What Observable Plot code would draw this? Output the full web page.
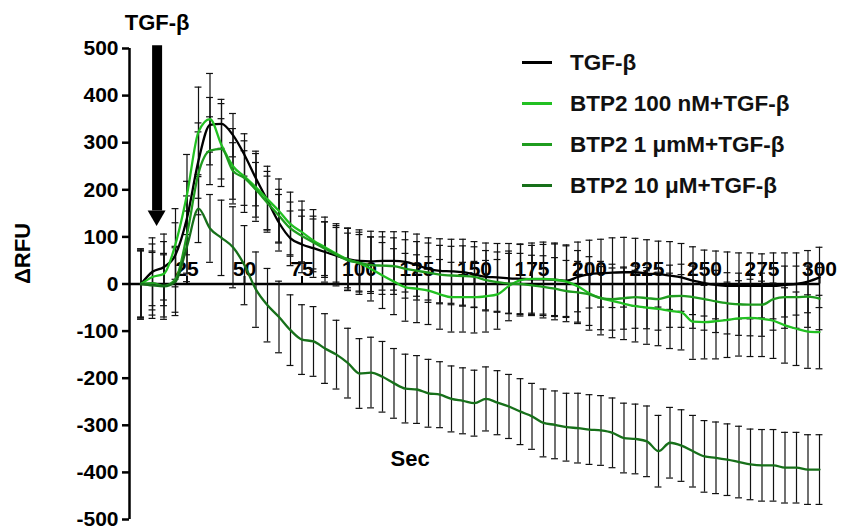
<!DOCTYPE html>
<html><head><meta charset="utf-8">
<script src="https://cdn.jsdelivr.net/npm/d3@7"></script>
<script src="https://cdn.jsdelivr.net/npm/@observablehq/plot@0.6"></script>
<style>
body{margin:0;background:#fff;}
#wrap{position:relative;width:842px;height:529px;font-family:"Liberation Sans",Arial,sans-serif;}
#legend{position:absolute;left:522px;top:42px;}
.row{display:flex;align-items:center;height:41px;}
.sw{width:30px;height:3px;margin-right:18px;}
.lab{font-size:22.5px;font-weight:bold;color:#111;white-space:nowrap;}
</style></head><body><div id="wrap"><div id="legend"></div></div>
<script>
// ---- data ----
const seriesNames = ["TGF-β", "BTP2 100 nM+TGF-β", "BTP2 1 μmM+TGF-β", "BTP2 10 μM+TGF-β"];
const seriesColors = ["#000000", "#22c022", "#1f9c1f", "#17701a"];
const times = [5,10,15,20,25,30,35,40,45,50,55,60,65,70,75,80,85,90,95,100,105,110,115,120,125,130,135,140,145,150,155,160,165,170,175,180,185,190,195,200,205,210,215,220,225,230,235,240,245,250,255,260,265,270,275,280,285,290,295,300];
const tgf    = [0,26,36,62,140,262,338,340,316,274,224,177,130,97,84,76,68,60,53,49,48,49,49,47,40,32,28,27,25,20,15,14,12,11,10,10,9,7,15,21,23,24,25,25,22,21,18,14,7,2,-2,-4,-4,-4,-4,-4,-2,0,5,14];
const btp100 = [0,15,22,85,190,323,350,295,250,228,205,180,155,127,110,92,78,64,52,44,32,18,5,-7,-10,-14,-22,-28,-28,-28,-26,-22,-4,8,11,11,9,5,-5,-20,-30,-36,-42,-47,-50,-53,-57,-60,-80,-81,-79,-76,-73,-72,-74,-78,-88,-95,-101,-102];
const btp1   = [0,2,-4,10,105,235,283,287,240,225,200,172,145,118,102,88,75,62,50,45,40,39,38,32,28,24,20,18,17,15,8,4,1,0,-3,-6,-10,-15,-18,-22,-30,-32,-30,-28,-30,-32,-26,-25,-28,-32,-37,-41,-43,-44,-44,-32,-28,-28,-27,-31];
const btp10  = [0,-3,-5,5,80,160,118,98,78,40,-12,-45,-70,-98,-118,-122,-137,-150,-168,-190,-188,-197,-211,-222,-224,-232,-235,-244,-248,-253,-244,-252,-260,-271,-281,-295,-299,-304,-306,-309,-311,-316,-327,-329,-334,-355,-337,-343,-355,-366,-369,-373,-378,-383,-385,-385,-390,-390,-394,-394];
const semTgf = [75,72,70,68,78,80,58,52,46,45,58,62,60,58,60,62,64,64,66,66,64,62,62,64,66,66,68,68,70,70,72,72,74,74,72,74,76,76,74,72,72,74,74,72,72,70,72,72,72,70,72,72,70,70,68,70,68,66,66,64];
const sem100 = [72,70,68,75,85,95,97,88,80,76,72,70,68,68,66,66,64,64,66,66,68,70,70,72,72,72,74,74,74,76,76,74,74,76,76,78,78,76,76,78,78,78,76,76,78,78,80,80,80,78,80,80,80,82,80,80,80,78,78,78];
const sem1   = [70,68,66,70,82,88,72,64,60,58,58,57,56,56,55,56,57,58,58,60,60,61,60,62,62,63,62,62,64,64,63,64,64,65,64,66,66,65,66,66,67,66,66,66,65,66,66,67,66,66,66,65,66,66,67,66,66,66,65,66];
const sem10  = [72,70,70,72,75,72,72,80,86,84,80,78,76,75,74,74,74,73,74,74,75,75,74,73,72,72,70,70,70,70,68,68,68,70,70,72,72,72,74,74,74,74,74,74,75,76,75,76,76,76,76,76,76,75,76,76,75,75,74,74];
const yTicks = [-500,-400,-300,-200,-100,0,100,200,300,400,500];
const xTicks = [25,50,75,100,125,150,175,200,225,250,275,300];
const yLabel = "ΔRFU";
const xLabel = "Sec";
const arrowLabel = "TGF-β";

// ---- build table ----
const means = [tgf, btp100, btp1, btp10];
const sems = [semTgf, sem100, sem1, sem10];
const rows = [];
seriesNames.forEach((s, i) => times.forEach((t, j) => rows.push({series: s, t, mean: means[i][j], sem: sems[i][j]})));

// annotation (arrow) geometry in data units
const arrowT = 12, arrowTop = 506, arrowBase = 155, arrowTip = 122, arrowHalf = 3.9;
const capHalf = 1.5;

const plot = Plot.plot({
  width: 842, height: 529,
  marginLeft: 129, marginRight: 23, marginTop: 48, marginBottom: 10,
  x: {domain: [0, 300], axis: null},
  y: {domain: [-500, 500]},
  color: {domain: seriesNames, range: seriesColors},
  style: {fontFamily: "Liberation Sans, Arial, sans-serif", color: "black", background: "white", overflow: "visible"},
  marks: [
    Plot.axisY(yTicks, {tickSize: 7, tickPadding: 4, tickFormat: d => String(d), fontSize: 21, fontWeight: "bold", strokeWidth: 2.5, label: null}),
    Plot.ruleX([0], {y1: -500, y2: 500, strokeWidth: 2.5}),
    Plot.text(xTicks, {x: d => d, y: 0, dy: -15, text: d => String(d), fontSize: 21, fontWeight: "bold"}),
    Plot.ruleX(xTicks, {x: d => d, y1: 0, y2: 16, strokeWidth: 2}),
    Plot.ruleY([0], {x1: 0, x2: 300, strokeWidth: 2.5}),
    // error bars
    Plot.ruleX(rows, {x: "t", y1: d => d.mean - d.sem, y2: d => d.mean + d.sem, stroke: "#111", strokeWidth: 1.2}),
    Plot.ruleY(rows, {y: d => d.mean + d.sem, x1: d => d.t - capHalf, x2: d => d.t + capHalf, stroke: "#111", strokeWidth: 1.2}),
    Plot.ruleY(rows, {y: d => d.mean - d.sem, x1: d => d.t - capHalf, x2: d => d.t + capHalf, stroke: "#111", strokeWidth: 1.2}),
    // lines
    Plot.line(rows, {x: "t", y: "mean", z: "series", stroke: "series", strokeWidth: 2.3, curve: "monotone-x"}),
    // arrow
    Plot.ruleX([arrowT], {x: d => d, y1: arrowBase, y2: arrowTop, strokeWidth: 10, stroke: "black"}),
    Plot.areaX([{y: arrowBase, x1: arrowT - arrowHalf, x2: arrowT + arrowHalf}, {y: arrowTip, x1: arrowT, x2: arrowT}], {y: "y", x1: "x1", x2: "x2", fill: "black"}),
    Plot.text([arrowLabel], {x: arrowT, y: 500, dy: -26, text: d => d, fontSize: 22, fontWeight: "bold"}),
    // axis titles
    Plot.text([yLabel], {frameAnchor: "left", y: 0, dx: -107, rotate: -90, text: d => d, fontSize: 22, fontWeight: "bold"}),
    Plot.text([xLabel], {x: 122, y: -371, text: d => d, fontSize: 22, fontWeight: "bold"})
  ]
});
document.getElementById("wrap").prepend(plot);

// legend
const leg = document.getElementById("legend");
seriesNames.forEach((s, i) => {
  const r = document.createElement("div"); r.className = "row";
  const sw = document.createElement("div"); sw.className = "sw"; sw.style.background = seriesColors[i];
  const lb = document.createElement("div"); lb.className = "lab"; lb.textContent = s;
  r.appendChild(sw); r.appendChild(lb); leg.appendChild(r);
});
</script>
</body></html>
